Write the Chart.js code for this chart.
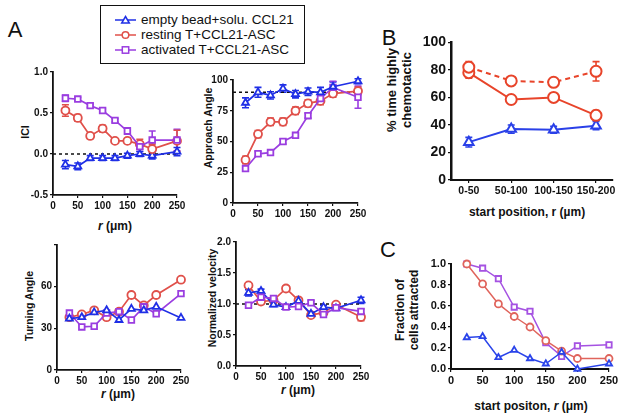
<!DOCTYPE html>
<html><head><meta charset="utf-8">
<script src="https://cdn.jsdelivr.net/npm/chart.js@4"></script>
<style>
body{margin:0;background:#fff;width:624px;height:419px;position:relative;overflow:hidden;font-family:"Liberation Sans",Arial,sans-serif;}
canvas{position:absolute;}
.t{position:absolute;white-space:nowrap;font-weight:bold;color:#111;transform:translate(-50%,-50%);line-height:1.15;text-align:center}
.v{transform:translate(-50%,-50%) rotate(-90deg);}
.L{position:absolute;font-size:22px;color:#111;transform:translate(-50%,-50%);}
#leg{position:absolute;left:100px;top:5px;width:203px;height:57px;border:1.5px solid #111;}
.row{position:absolute;left:14px;height:15px;font-size:13.5px;color:#111;white-space:nowrap;display:flex;align-items:center}
.row svg{margin-right:5px}
</style></head><body>
<div class="L" style="left:15px;top:30px">A</div>
<div class="L" style="left:389px;top:38px">B</div>
<div class="L" style="left:388px;top:250px">C</div>
<div id="leg">
 <div class="row" style="top:6px"><svg width="21" height="12"><line x1="0" y1="6" x2="21" y2="6" stroke="#1f2fe6" stroke-width="1.5"/><polygon points="10.5,2.5 14.3,9 6.7,9" fill="#fff" stroke="#1f2fe6" stroke-width="1.5"/></svg>empty bead+solu. CCL21</div>
 <div class="row" style="top:21px"><svg width="21" height="12"><line x1="0" y1="6" x2="21" y2="6" stroke="#e0504a" stroke-width="1.5"/><circle cx="10.5" cy="6" r="3.3" fill="#fff" stroke="#e0504a" stroke-width="1.5"/></svg>resting T+CCL21-ASC</div>
 <div class="row" style="top:36px"><svg width="21" height="12"><line x1="0" y1="6" x2="21" y2="6" stroke="#9a3de0" stroke-width="1.5"/><rect x="7.3" y="2.8" width="6.4" height="6.4" fill="#fff" stroke="#9a3de0" stroke-width="1.5"/></svg>activated T+CCL21-ASC</div>
</div>
<div class="t v" style="left:25px;top:132px;font-size:10.5px">ICI</div>
<div class="t v" style="left:208px;top:128px;font-size:10.5px">Approach Angle</div>
<div class="t v" style="left:29px;top:306px;font-size:10.5px">Turning Angle</div>
<div class="t v" style="left:212px;top:298px;font-size:10.5px">Normalized velocity</div>
<div class="t v" style="left:400px;top:90px;font-size:13px">% time highly<br>chemotactic</div>
<div class="t v" style="left:408px;top:310px;font-size:12px">Fraction of<br>cells attracted</div>
<div class="t" style="left:115px;top:227px;font-size:12px"><i>r</i> (μm)</div>
<div class="t" style="left:118px;top:395px;font-size:12px"><i>r</i> (μm)</div>
<div class="t" style="left:298px;top:391px;font-size:12px"><i>r</i> (μm)</div>
<div class="t" style="left:527px;top:213px;font-size:12px">start position, r (µm)</div>
<div class="t" style="left:531px;top:407px;font-size:12px">start positon, <i>r</i> (μm)</div>
<script>
// ---- data ----
const r = [25, 50, 75, 100, 125, 150, 175, 200, 250];
const seriesNames = ['empty bead+solu. CCL21', 'resting T+CCL21-ASC', 'activated T+CCL21-ASC'];

const iciBlue   = [-0.13, -0.15, -0.05, -0.05, -0.05, -0.02, 0.00, -0.02, 0.03];
const iciBlueE  = [0.05, 0.04, 0.03, 0.03, 0.03, 0.03, 0.03, 0.04, 0.05];
const iciRed    = [0.53, 0.44, 0.22, 0.31, 0.16, 0.16, 0.12, 0.06, 0.16];
const iciRedE   = [0.07, 0.04, 0.03, 0.04, 0.02, 0.03, 0.06, 0.06, 0.13];
const iciPurple = [0.68, 0.67, 0.59, 0.53, 0.41, 0.28, 0.09, 0.17, 0.17];
const iciPurpleE= [0.04, 0.02, 0.02, 0.02, 0.02, 0.04, 0.06, 0.11, 0.13];

const apBlue    = [81.5, 90, 87.5, 93, 88.5, 90.5, 90, 94.5, 99];
const apBlueE   = [4, 4, 3, 3, 3, 3, 4, 4, 2];
const apRed     = [35, 56, 66, 66, 75, 81, 83, 89, 91];
const apRedE    = [3, 3, 3, 3, 3, 3, 3, 3, 3];
const apPurple  = [28, 40, 41, 50, 55, 71, 85, 94, 86];
const apPurpleE = [2, 2, 2, 2, 2, 2, 4, 5, 9];

const taRed     = [38, 40, 43, 38, 42, 54, 46.5, 54, 65];
const taPurple  = [41, 31, 31.5, 41, 42, 36, 45.5, 40.5, 55];
const taBlue    = [37, 38, 41.5, 43, 36, 44, 43, 45.5, 37.5];

const nvRed     = [1.30, 1.04, 1.06, 1.25, 1.06, 0.82, 0.86, 0.99, 0.79];
const nvRedE    = [0.04, 0.03, 0.03, 0.04, 0.03, 0.03, 0.03, 0.03, 0.06];
const nvPurple  = [0.98, 1.11, 1.09, 0.95, 0.96, 1.02, 0.83, 0.94, 0.88];
const nvPurpleE = [0.03, 0.03, 0.03, 0.03, 0.03, 0.03, 0.03, 0.03, 0.04];
const nvBlue    = [1.18, 1.21, 0.99, 0.95, 1.05, 0.84, 0.95, 0.93, 1.06];
const nvBlueE   = [0.05, 0.03, 0.03, 0.03, 0.03, 0.03, 0.03, 0.03, 0.05];

const bCats     = ['0-50', '50-100', '100-150', '150-200'];
const bDashed   = [82, 72, 71, 79];
const bDashedE  = [4, 2, 3, 7];
const bSolid    = [78, 58.5, 60, 47];
const bSolidE   = [4, 3, 3, 3.5];
const bBlue     = [27.5, 37, 36.5, 39.5];
const bBlueE    = [3.5, 3, 2.5, 3];

const cPurple   = [1.00, 0.96, 0.86, 0.59, 0.55, 0.25, 0.12, 0.22, 0.23];
const cRed      = [1.00, 0.81, 0.62, 0.50, 0.40, 0.27, 0.17, 0.10, 0.10];
const cBlue     = [0.30, 0.31, 0.11, 0.18, 0.10, 0.05, 0.16, 0.00, 0.05];

const rTicks    = [0, 50, 100, 150, 200, 250];

// ---- styling ----
const FF = '"Liberation Sans", Arial, sans-serif';
const BLUE = '#1f2fe6', RED = '#e0504a', PURPLE = '#9a3de0';
const BRED = '#e8442a', BBLUE = '#2a40e8';
const CRED = '#e0645c', CPURPLE = '#a552e2', CBLUE = '#2a44ea';

const errPlugin = {
  id: 'errbars',
  beforeDatasetsDraw(chart) {
    const ctx = chart.ctx, ys = chart.scales.y;
    chart.data.datasets.forEach((ds, i) => {
      if (!ds.errs) return;
      const meta = chart.getDatasetMeta(i);
      ctx.save();
      ctx.strokeStyle = ds.borderColor; ctx.lineWidth = 1.6;
      meta.data.forEach((pt, j) => {
        const e = ds.errs[j]; if (!e) return;
        const v = ds.data[j].y;
        const y1 = ys.getPixelForValue(v + e), y2 = ys.getPixelForValue(v - e);
        ctx.beginPath();
        ctx.moveTo(pt.x, y1); ctx.lineTo(pt.x, y2);
        ctx.moveTo(pt.x - 3.5, y1); ctx.lineTo(pt.x + 3.5, y1);
        ctx.moveTo(pt.x - 3.5, y2); ctx.lineTo(pt.x + 3.5, y2);
        ctx.stroke();
      });
      ctx.restore();
    });
  }
};

function ser(xs, ys, color, style, errs, extra) {
  return Object.assign({
    data: xs.map((x, i) => ({ x: x, y: ys[i] })),
    borderColor: color, backgroundColor: '#fff',
    pointBackgroundColor: '#fff', pointBorderColor: color,
    pointStyle: style, pointRadius: 4, pointBorderWidth: 1.8,
    borderWidth: 1.7, tension: 0, clip: false, errs: errs
  }, extra || {});
}
function refLine(x0, x1, y) {
  return { data: [{ x: x0, y: y }, { x: x1, y: y }], borderColor: '#111', borderDash: [3, 3],
    borderWidth: 1.5, pointRadius: 0, clip: false };
}
function axis(min, max, ticks, size, dec, bw, fmt) {
  return {
    type: 'linear', min: min, max: max,
    afterBuildTicks: s => { s.ticks = ticks.map(v => ({ value: v })); },
    ticks: { color: '#111', font: { family: FF, size: size, weight: 'bold' }, padding: 2,
      autoSkip: false, maxRotation: 0,
      callback: fmt || (v => v.toFixed(dec)) },
    grid: { drawOnChartArea: false, drawTicks: true, tickLength: 3, color: '#111', lineWidth: 1.2 },
    border: { display: true, color: '#111', width: bw || 1.8 }
  };
}
function panel(area, datasets, xs, ys, yw) {
  const YW = yw || 36, XH = 20, PT = 10, PR = 16;
  const c = document.createElement('canvas');
  const w = area.r - area.l + YW + PR, h = area.b - area.t + PT + XH;
  c.width = w; c.height = h;
  c.style.left = (area.l - YW) + 'px'; c.style.top = (area.t - PT) + 'px';
  c.style.width = w + 'px'; c.style.height = h + 'px';
  document.body.appendChild(c);
  xs.afterFit = s => { s.height = XH; };
  ys.afterFit = s => { s.width = YW; };
  new Chart(c, {
    type: 'line', data: { datasets: datasets },
    options: { responsive: false, animation: false, devicePixelRatio: 1,
      layout: { padding: { top: PT, right: PR, left: 0, bottom: 0 } },
      plugins: { legend: { display: false }, tooltip: { enabled: false } },
      scales: { x: xs, y: ys } },
    plugins: [errPlugin]
  });
}

// A1: ICI
panel({ l: 53, r: 177, t: 72, b: 195 }, [
  ser(r, iciPurple, PURPLE, 'rect', iciPurpleE),
  ser(r, iciRed, RED, 'circle', iciRedE),
  ser(r, iciBlue, BLUE, 'triangle', iciBlueE),
  refLine(0, 250, 0)
], axis(0, 250, rTicks, 10, 0), axis(-0.5, 1.0, [-0.5, 0, 0.5, 1.0], 10, 1));

// A2: Approach angle
panel({ l: 233, r: 358, t: 80, b: 203 }, [
  ser(r, apBlue, BLUE, 'triangle', apBlueE),
  ser(r, apPurple, PURPLE, 'rect', apPurpleE),
  ser(r, apRed, RED, 'circle', apRedE),
  refLine(0, 250, 90)
], axis(0, 250, rTicks, 10, 0), axis(0, 100, [0, 25, 50, 75, 100], 10, 0));

// A3: Turning angle
panel({ l: 57, r: 181, t: 245, b: 370 }, [
  ser(r, taBlue, BLUE, 'triangle'),
  ser(r, taPurple, PURPLE, 'rect'),
  ser(r, taRed, RED, 'circle')
], axis(0, 250, rTicks, 10, 0), axis(0, 90, [0, 30, 60, 90], 10, 0, 1.8, v => v === 90 ? '' : String(v)));

// A4: Normalized velocity
panel({ l: 236, r: 361, t: 242, b: 366 }, [
  ser(r, nvPurple, PURPLE, 'rect', nvPurpleE),
  ser(r, nvBlue, BLUE, 'triangle', nvBlueE),
  ser(r, nvRed, RED, 'circle', nvRedE),
  refLine(0, 250, 1.0)
], axis(0, 250, rTicks, 10, 0), axis(0, 2.0, [0, 0.5, 1.0, 1.5, 2.0], 10, 1));

// B
const bx = bCats.map((_, i) => i);
panel({ l: 451, r: 613, t: 42, b: 180 }, [
  ser(bx, bDashed, BRED, 'circle', bDashedE, { borderDash: [5, 4], pointRadius: 5.5, borderWidth: 2, pointBorderWidth: 2 }),
  ser(bx, bSolid, BRED, 'circle', bSolidE, { pointRadius: 5.5, borderWidth: 2, pointBorderWidth: 2 }),
  ser(bx, bBlue, BBLUE, 'triangle', bBlueE, { pointRadius: 5.5, borderWidth: 2, pointBorderWidth: 2 })
], axis(-0.42, 3.4, bx, 10.5, 0, 2, v => bCats[v]),
   axis(0, 100, [0, 20, 40, 60, 80, 100], 14, 0, 2.5), 40);

// C
panel({ l: 451, r: 609, t: 264, b: 369 }, [
  ser(r, cBlue, CBLUE, 'triangle', null, { pointRadius: 3.5, borderWidth: 1.5 }),
  ser(r, cRed, CRED, 'circle', null, { pointRadius: 3.5, borderWidth: 1.5 }),
  ser(r, cPurple, CPURPLE, 'rect', null, { pointRadius: 3.8, borderWidth: 1.5 })
], axis(0, 250, rTicks, 11, 0, 2), axis(0, 1.0, [0, 0.2, 0.4, 0.6, 0.8, 1.0], 11, 1, 2));
</script>
</body></html>
